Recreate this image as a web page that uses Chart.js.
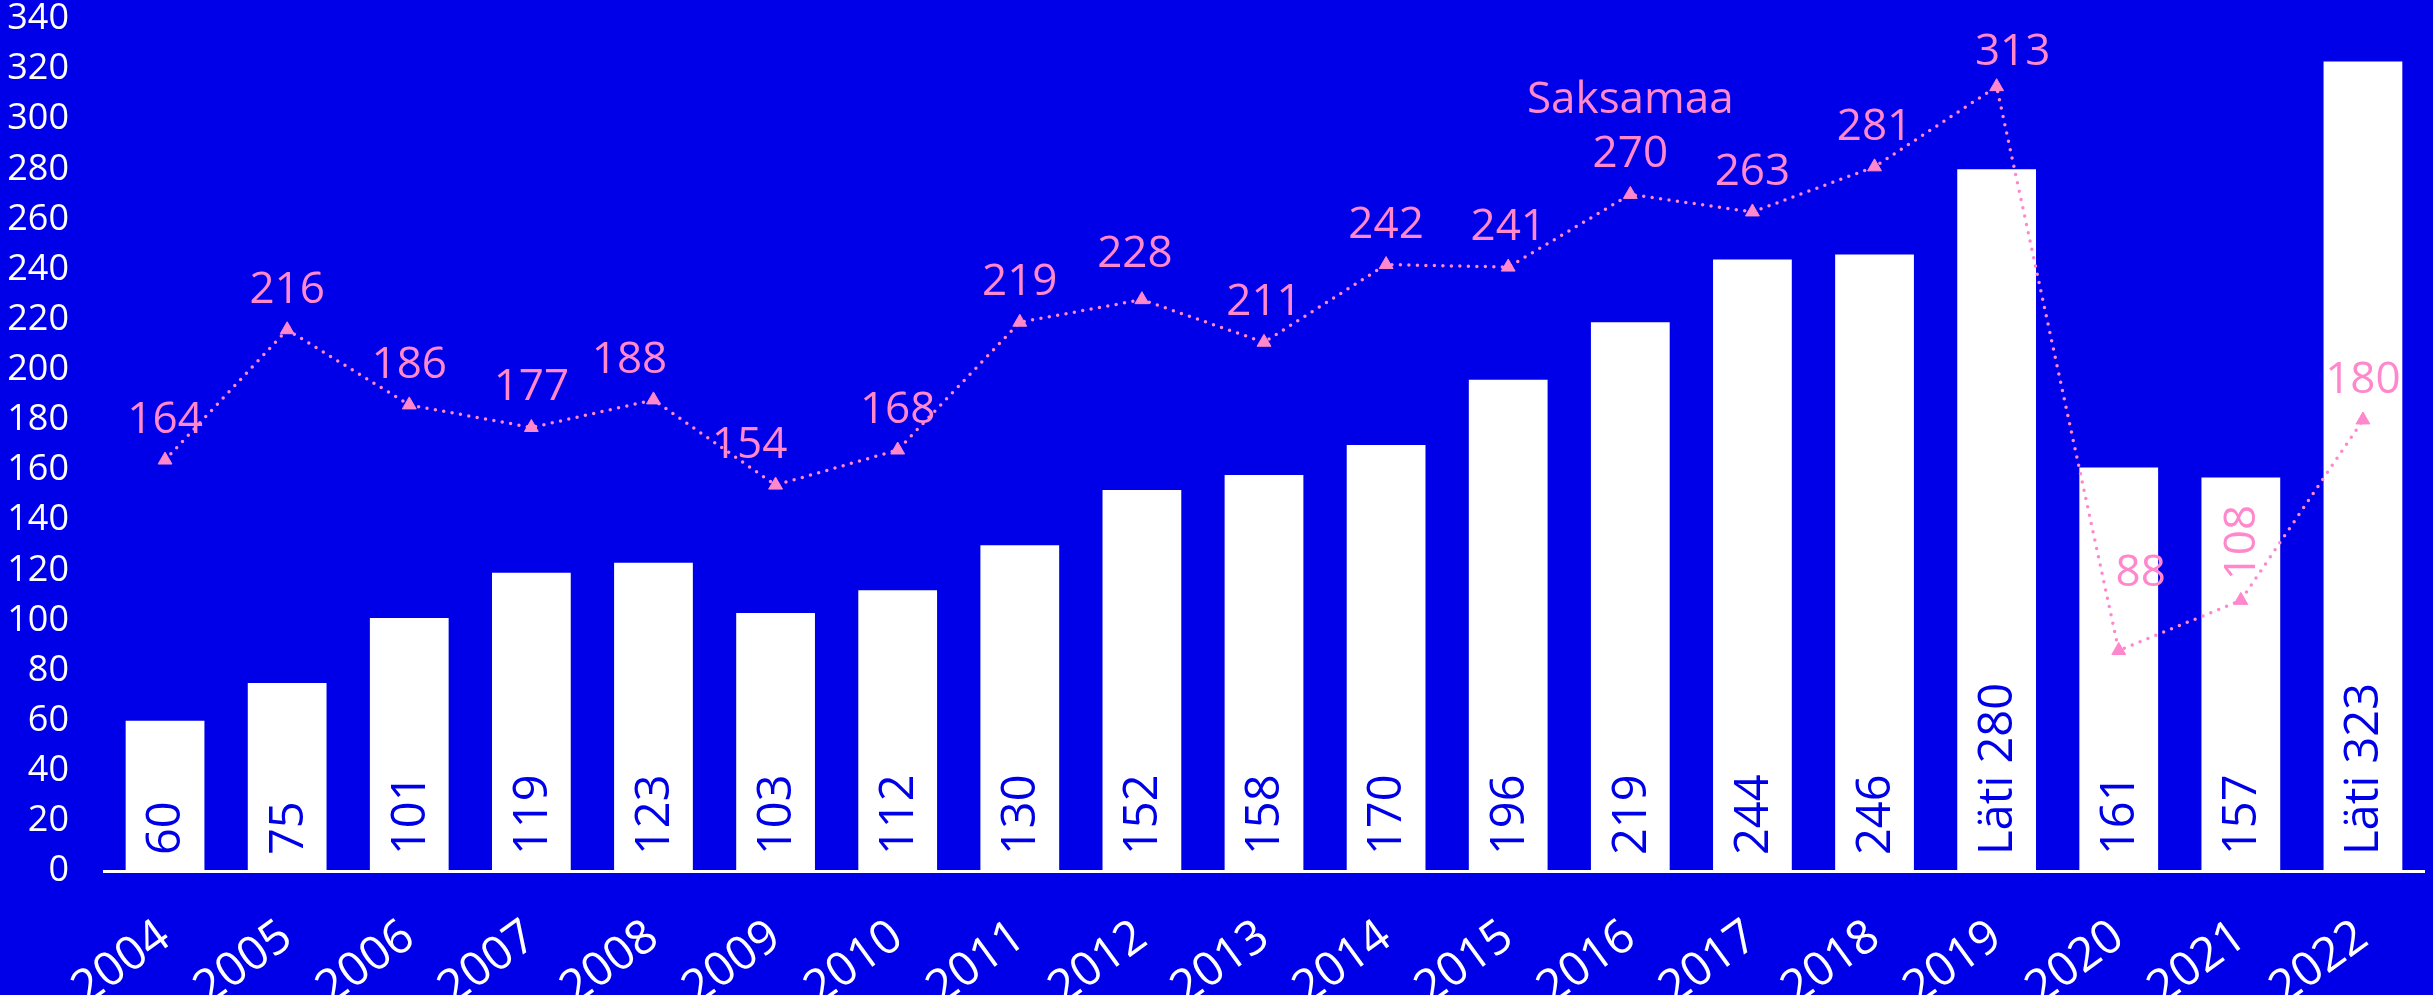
<!DOCTYPE html>
<html>
<head>
<meta charset="utf-8">
<script src="https://cdn.jsdelivr.net/npm/chart.js@4/dist/chart.umd.min.js"></script>
<style>
  html, body { margin: 0; padding: 0; background: #0000e8; }
  canvas { display: block; }
</style>
</head>
<body>
<canvas id="c" width="2433" height="995"></canvas>
<script>
// ---- data ----
const categories = ['2004','2005','2006','2007','2008','2009','2010','2011','2012','2013','2014','2015','2016','2017','2018','2019','2020','2021','2022'];
const latiValues = [60,75,101,119,123,103,112,130,152,158,170,196,219,244,246,280,161,157,323];
const saksamaaValues = [164,216,186,177,188,154,168,219,228,211,242,241,270,263,281,313,88,108,180];
const yTickValues = [0,20,40,60,80,100,120,140,160,180,200,220,240,260,280,300,320,340];
const barSeriesName = 'Läti';
const lineSeriesName = 'Saksamaa';
const barNameShownAt = ['2019','2022'];
const lineNameShownAt = ['2016'];

// ---- styles ----
const BG = '#0000e8';
const PINK = '#ff88cc';
const FONT = "'Open Sans', sans-serif";

// label placement tweaks for the line labels (style only)
const lineLabelTweaks = {
  '2009': { dx: -26, dy: 0 },
  '2008': { dx: -24, dy: 0 },
  '2012': { dx: -7, dy: -6 },
  '2019': { dx: 16, dy: 5 },
  '2020': { dx: 22, dy: -37 },
  '2021': { rotate: true, gap: 20 }
};

const labelPlugin = {
  id: 'valueLabels',
  afterDatasetsDraw(chart) {
    const ctx = chart.ctx;
    const yScale = chart.scales.y;
    const zeroY = yScale.getPixelForValue(0);
    // bar labels
    const barMeta = chart.getDatasetMeta(0);
    barMeta.data.forEach((el, i) => {
      const cat = categories[i];
      const txt = (barNameShownAt.includes(cat) ? barSeriesName + ' ' : '') + latiValues[i];
      ctx.save();
      ctx.translate(el.x, zeroY - 16);
      ctx.rotate(-Math.PI / 2);
      ctx.fillStyle = BG;
      ctx.font = '47px ' + FONT;
      ctx.textAlign = 'left';
      ctx.textBaseline = 'middle';
      ctx.fillText(txt, 0, 2);
      ctx.restore();
    });
    // line labels
    const lineMeta = chart.getDatasetMeta(1);
    lineMeta.data.forEach((el, i) => {
      const cat = categories[i];
      const txt = String(saksamaaValues[i]);
      const t = lineLabelTweaks[cat] || {};
      ctx.save();
      ctx.fillStyle = PINK;
      ctx.font = '44px ' + FONT;
      if (t.rotate) {
        ctx.translate(el.x, el.y - t.gap);
        ctx.rotate(-Math.PI / 2);
        ctx.textAlign = 'left';
        ctx.textBaseline = 'middle';
        ctx.fillText(txt, 0, 2);
      } else {
        const x = el.x + (t.dx || 0);
        const y = el.y - 27 + (t.dy || 0);
        ctx.textAlign = 'center';
        ctx.textBaseline = 'alphabetic';
        ctx.fillText(txt, x, y);
        if (lineNameShownAt.includes(cat)) {
          ctx.fillText(lineSeriesName, x, y - 54);
        }
      }
      ctx.restore();
    });
  }
};

new Chart(document.getElementById('c'), {
  data: {
    labels: categories,
    datasets: [
      {
        type: 'bar',
        label: barSeriesName,
        data: latiValues,
        backgroundColor: '#ffffff',
        borderWidth: 0,
        barPercentage: 0.645,
        categoryPercentage: 1,
        order: 2
      },
      {
        type: 'line',
        label: lineSeriesName,
        data: saksamaaValues,
        borderColor: PINK,
        borderWidth: 3.5,
        borderDash: [0, 8.5],
        borderCapStyle: 'round',
        tension: 0,
        fill: false,
        pointStyle: 'triangle',
        pointRadius: 8,
        pointBackgroundColor: PINK,
        pointBorderColor: PINK,
        pointBorderWidth: 1,
        order: 1
      }
    ]
  },
  options: {
    responsive: false,
    animation: false,
    devicePixelRatio: 1,
    layout: { padding: { top: 19, right: 2, left: 0, bottom: 0 } },
    plugins: {
      legend: { display: false },
      tooltip: { enabled: false }
    },
    scales: {
      x: {
        grid: { display: false },
        border: { display: true, color: '#ffffff', width: 3 },
        ticks: {
          color: '#ffffff',
          font: { family: FONT, size: 47 },
          minRotation: 36,
          maxRotation: 36,
          autoSkip: false,
          padding: 30
        },
        afterFit(scale) { scale.height = 124; scale.paddingLeft = 0; scale.paddingRight = 0; }
      },
      y: {
        min: 0,
        max: 340,
        grid: { display: false },
        border: { display: false },
        ticks: {
          color: '#ffffff',
          font: { family: FONT, size: 36 },
          padding: 27
        },
        afterBuildTicks(scale) { scale.ticks = yTickValues.map(v => ({ value: v })); },
        afterFit(scale) { scale.width = 104; scale.paddingTop = 0; scale.paddingBottom = 0; }
      }
    }
  },
  plugins: [labelPlugin]
});
</script>
</body>
</html>
